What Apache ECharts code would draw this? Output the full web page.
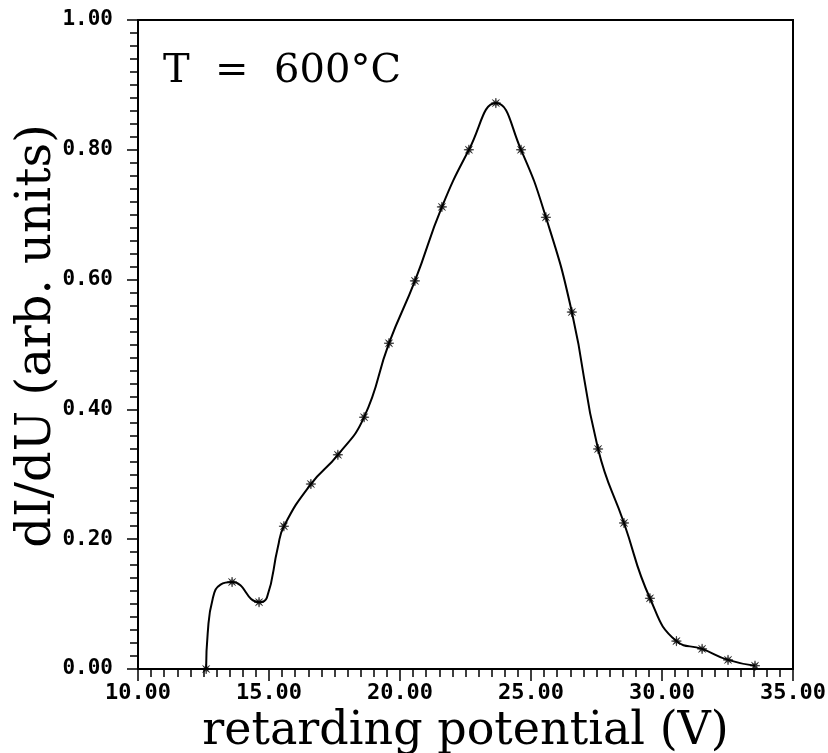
<!DOCTYPE html>
<html>
<head>
<meta charset="utf-8">
<script src="https://cdn.jsdelivr.net/npm/echarts@6/dist/echarts.min.js"></script>
<style>
html,body{margin:0;padding:0;background:#fff;}
#chart{width:828px;height:753px;}
</style>
</head>
<body>
<div id="chart"></div>
<script>
const potential = [12.60, 13.59, 14.62, 15.57, 16.60, 17.63, 18.63, 19.58, 20.57, 21.60, 22.63, 23.66, 24.62, 25.57, 26.56, 27.56, 28.55, 29.54, 30.55, 31.53, 32.52, 33.55];
const dIdU =      [0.000, 0.134, 0.103, 0.220, 0.285, 0.330, 0.388, 0.502, 0.598, 0.712, 0.800, 0.872, 0.800, 0.696, 0.550, 0.339, 0.225, 0.109, 0.043, 0.031, 0.014, 0.005];
const bendX = [12.66, 12.85, 13.15, 14.92, 15.34];
const bendY = [0.055, 0.108, 0.130, 0.110, 0.188];
const xTicks = {min: 10, max: 35, step: 5};
const yTicks = {min: 0, max: 1, step: 0.2};
const annotation = 'T  =  600°C';
const xTitle = 'retarding potential (V)';
const yTitle = 'dI/dU (arb. units)';

const starPath = 'path://M0,-1 L0.115,-0.277 L0.707,-0.707 L0.277,-0.115 L1,0 L0.277,0.115 L0.707,0.707 L0.115,0.277 L0,1 L-0.115,0.277 L-0.707,0.707 L-0.277,0.115 L-1,0 L-0.277,-0.115 L-0.707,-0.707 L-0.115,-0.277 Z';

const markerPts = potential.map((x, i) => [x, dIdU[i]]);
const curvePts = markerPts.concat(bendX.map((x, i) => [x, bendY[i]])).sort((a, b) => a[0] - b[0]);

const chart = echarts.init(document.getElementById('chart'), null, {renderer: 'canvas'});
const black = '#000';
const labelFont = '"DejaVu Sans Mono", monospace';
const serif = '"DejaVu Serif", serif';

chart.setOption({
  backgroundColor: '#fff',
  animation: false,
  grid: {left: 138, right: 35, top: 20, bottom: 84, outerBoundsMode: 'none', containLabel: false,
    show: true, borderColor: black, borderWidth: 2, backgroundColor: 'transparent'},
  xAxis: {
    type: 'value', min: xTicks.min, max: xTicks.max, interval: xTicks.step,
    name: xTitle, nameLocation: 'middle', nameGap: 29,
    nameTextStyle: {fontFamily: serif, fontSize: 46, color: black},
    axisLine: {show: true, onZero: false, lineStyle: {color: black, width: 2}},
    axisTick: {show: true, inside: false, length: 12, lineStyle: {color: black, width: 1.5}},
    minorTick: {show: true, splitNumber: 10, length: 8, lineStyle: {color: black, width: 1.5}},
    splitLine: {show: false}, minorSplitLine: {show: false},
    axisLabel: {margin: 13, color: black, fontFamily: labelFont, fontWeight: 'bold', fontSize: 22,
      formatter: v => v.toFixed(2), showMinLabel: true, showMaxLabel: true, hideOverlap: false}
  },
  yAxis: {
    type: 'value', min: yTicks.min, max: yTicks.max, interval: yTicks.step,
    axisLine: {show: true, onZero: false, lineStyle: {color: black, width: 2}},
    axisTick: {show: true, inside: false, length: 11, lineStyle: {color: black, width: 1.5}},
    minorTick: {show: true, splitNumber: 10, length: 8, lineStyle: {color: black, width: 1.5}},
    splitLine: {show: false}, minorSplitLine: {show: false},
    axisLabel: {margin: 25, color: black, fontFamily: labelFont, fontWeight: 'bold', fontSize: 21,
      formatter: v => v.toFixed(2), showMinLabel: true, showMaxLabel: true, hideOverlap: false}
  },
  series: [{
    type: 'line',
    data: curvePts,
    smooth: 0.5,
    showSymbol: false, symbol: 'none',
    lineStyle: {color: black, width: 2},
    clip: false, silent: true
  }, {
    type: 'scatter',
    data: markerPts,
    symbol: starPath, symbolSize: 10,
    itemStyle: {color: black, borderColor: black, borderWidth: 0.6},
    clip: false, silent: true
  }],
  graphic: [
    {type: 'text', left: 163, top: 52, style: {text: annotation, font: '40px ' + serif, fill: black}},
    {type: 'text', x: 38, y: 336, rotation: Math.PI / 2,
      style: {text: yTitle, font: '48px ' + serif, fill: black, align: 'center', verticalAlign: 'middle'}}
  ]
});
</script>
</body>
</html>
